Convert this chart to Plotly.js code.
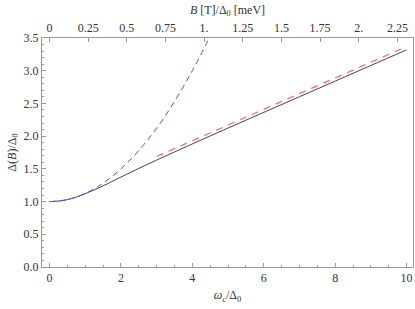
<!DOCTYPE html>
<html><head><meta charset="utf-8">
<script src="https://cdn.plot.ly/plotly-3.0.1.min.js"></script>
<style>html,body{margin:0;padding:0;background:#fff}#plot{width:415px;height:309px}</style>
</head><body><div id="plot"></div>
<script>
// Exact solution (solid)
const omegaExact = [0, 0.25, 0.5, 0.75, 1.0, 1.25, 1.5, 2.0, 2.5, 3.0, 3.5, 4.0, 5.0, 6.0, 7.0, 8.0, 9.0, 10.0];
const deltaExact = [1.0, 1.008, 1.03, 1.068, 1.12, 1.178, 1.24, 1.375, 1.507, 1.634, 1.758, 1.881, 2.123, 2.363, 2.602, 2.841, 3.08, 3.318];
// Small-field approximation (blue dashed)
const omegaSmall = [0, 0.5, 1.0, 1.5, 2.0, 2.5, 3.0, 3.5, 4.0, 4.4, 4.5];
const deltaSmall = [1.0, 1.03, 1.125, 1.28, 1.5, 1.78, 2.12, 2.53, 3.0, 3.42, 3.53];
// Large-field asymptote (red dashed)
const omegaLarge = [3, 4, 5, 6, 7, 8, 9, 10];
const deltaLarge = [1.69, 1.93, 2.17, 2.41, 2.65, 2.89, 3.13, 3.37];
// Top axis ticks (B [T]/Δ0 [meV])
const topTickVals = [0, 0.25, 0.5, 0.75, 1, 1.25, 1.5, 1.75, 2, 2.25];
const topTickText = ["0", "0.25", "0.5", "0.75", "1.", "1.25", "1.5", "1.75", "2.", "2.25"];
const scaleB = 4.33;

const xr = [-0.21, 10.18];
const font = {family: "Liberation Serif, DejaVu Serif, serif", size: 12, color: "#333"};
const frame = "#999";

const traces = [
  {x: omegaLarge, y: deltaLarge, mode: "lines", line: {color: "rgb(255,100,100)", width: 1.2, dash: "7px,6px"}, hoverinfo: "skip"},
  {x: omegaExact, y: deltaExact, mode: "lines", line: {color: "rgb(70,70,70)", width: 1, shape: "spline"}, hoverinfo: "skip"},
  {x: omegaSmall, y: deltaSmall, mode: "lines", line: {color: "rgb(80,80,255)", width: 1, dash: "6px,4px", shape: "spline"}, hoverinfo: "skip"},
  {x: [0], y: [0], xaxis: "x2", mode: "markers", marker: {opacity: 0}, hoverinfo: "skip"}
];

const layout = {
  width: 415, height: 309,
  margin: {l: 42, r: 2, t: 38, b: 42},
  paper_bgcolor: "#fff", plot_bgcolor: "#fff",
  showlegend: false,
  font: font,
  xaxis: {
    range: xr, tickvals: [0, 2, 4, 6, 8, 10], ticks: "inside", ticklen: 4, tickcolor: frame,
    minor: {dtick: 0.5, tick0: 0, ticks: "inside", ticklen: 2, tickcolor: frame, showgrid: false},
    showgrid: false, zeroline: false, showline: true, linecolor: frame, linewidth: 1, mirror: true,
    tickfont: font,
    title: {text: "<i>ω</i><sub>c</sub>/Δ<sub>0</sub>", font: font, standoff: 6}
  },
  xaxis2: {
    overlaying: "x", side: "top", anchor: "y",
    range: [xr[0] / scaleB, xr[1] / scaleB],
    tickvals: topTickVals, ticktext: topTickText, ticks: "inside", ticklen: 4, tickcolor: frame,
    showgrid: false, zeroline: false, showline: true, linecolor: frame, linewidth: 1,
    tickfont: font,
    title: {text: "<i>B</i> [T]/Δ<sub>0</sub> [meV]", font: font, standoff: 4}
  },
  yaxis: {
    range: [0, 3.5], tickvals: [0, 0.5, 1, 1.5, 2, 2.5, 3, 3.5],
    ticktext: ["0.0", "0.5", "1.0", "1.5", "2.0", "2.5", "3.0", "3.5"],
    ticks: "inside", ticklen: 4, tickcolor: frame,
    minor: {dtick: 0.1, tick0: 0, ticks: "inside", ticklen: 2, tickcolor: frame, showgrid: false},
    showgrid: false, zeroline: false, showline: true, linecolor: frame, linewidth: 1, mirror: true,
    tickfont: font,
    title: {text: "Δ(<i>B</i>)/Δ<sub>0</sub>", font: font, standoff: 4}
  }
};

Plotly.newPlot("plot", traces, layout, {staticPlot: true, displayModeBar: false});
</script>
</body></html>
